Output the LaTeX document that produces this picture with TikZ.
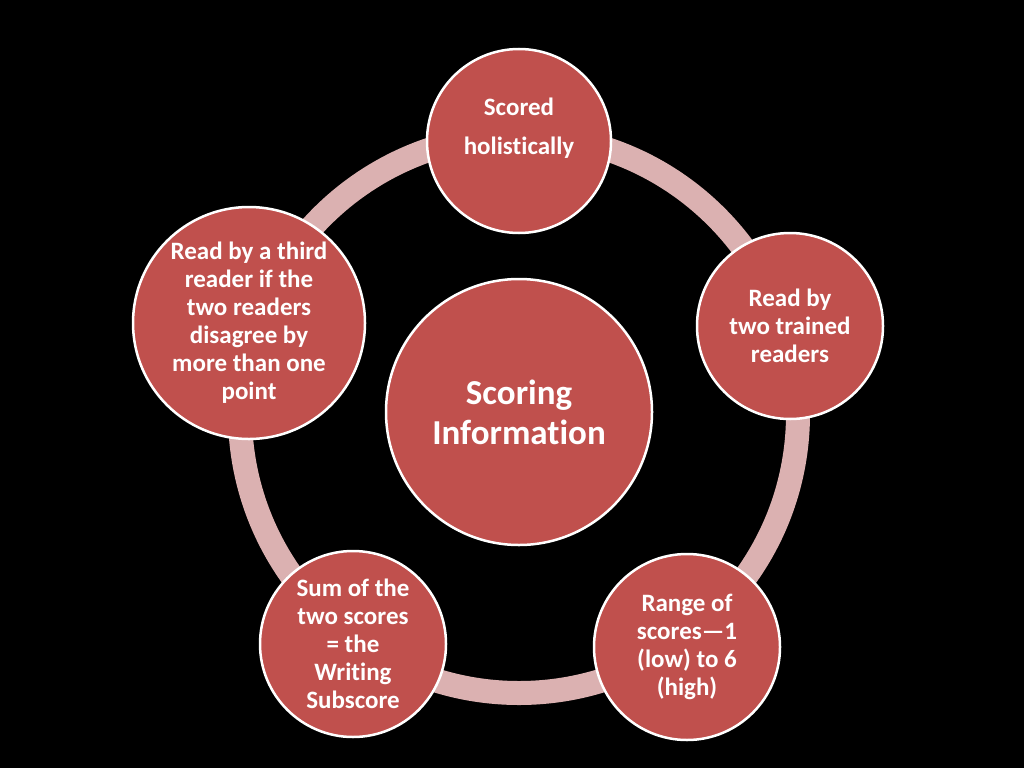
\documentclass[tikz,border=0pt]{standalone}
\usepackage{fontspec}
\setmainfont{Carlito}[Ligatures={NoCommon},RawFeature={-liga;-dlig;-clig}]
\definecolor{nodered}{RGB}{192,80,77}
\definecolor{ringpink}{RGB}{219,177,177}
\begin{document}
\begin{tikzpicture}[x=1pt,y=-1pt,
  outer/.style={circle,fill=nodered,draw=white,line width=2.5pt,inner sep=0pt},
  txt/.style={text=white,font=\bfseries\fontsize{25}{28}\selectfont,align=center,inner sep=0pt},
  bigtxt/.style={text=white,font=\bfseries\fontsize{35}{40}\selectfont,align=center,inner sep=0pt},
  ring/.style={draw=ringpink,line width=24pt}]
\fill[black] (0,0) rectangle (1024,768);
\useasboundingbox (0,0) rectangle (1024,768);
\coordinate (rc) at (519,414);
\draw[ring] (rc) circle[radius=279pt];
\node[outer,minimum size=266pt] (c) at (519,412) {};
\node[bigtxt] (ct) at (c.center) {Scoring\\Information};
\node[outer,minimum size=184pt] (n1) at (519,141) {};
\node[txt,font=\bfseries\fontsize{25}{39}\selectfont] (t1) at ([yshift=13pt]n1.center) {Scored\\holistically};
\node[outer,minimum size=186pt] (n2) at (790,326) {};
\node[txt] (t2) at (n2.center) {Read by\\two trained\\readers};
\node[outer,minimum size=186pt] (n3) at (687,647) {};
\node[txt] (t3) at (n3.center) {Range of\\scores\textemdash1\\(low) to 6\\(high)};
\node[outer,minimum size=186pt] (n4) at (353,644) {};
\node[txt] (t4) at (n4.center) {Sum of the\\two scores\\= the\\Writing\\Subscore};
\node[outer,minimum size=232pt] (n5) at (249,323) {};
\node[txt] (t5) at (n5.center) {Read by a third\\reader if the\\two readers\\disagree by\\more than one\\point};
\end{tikzpicture}
\end{document}
